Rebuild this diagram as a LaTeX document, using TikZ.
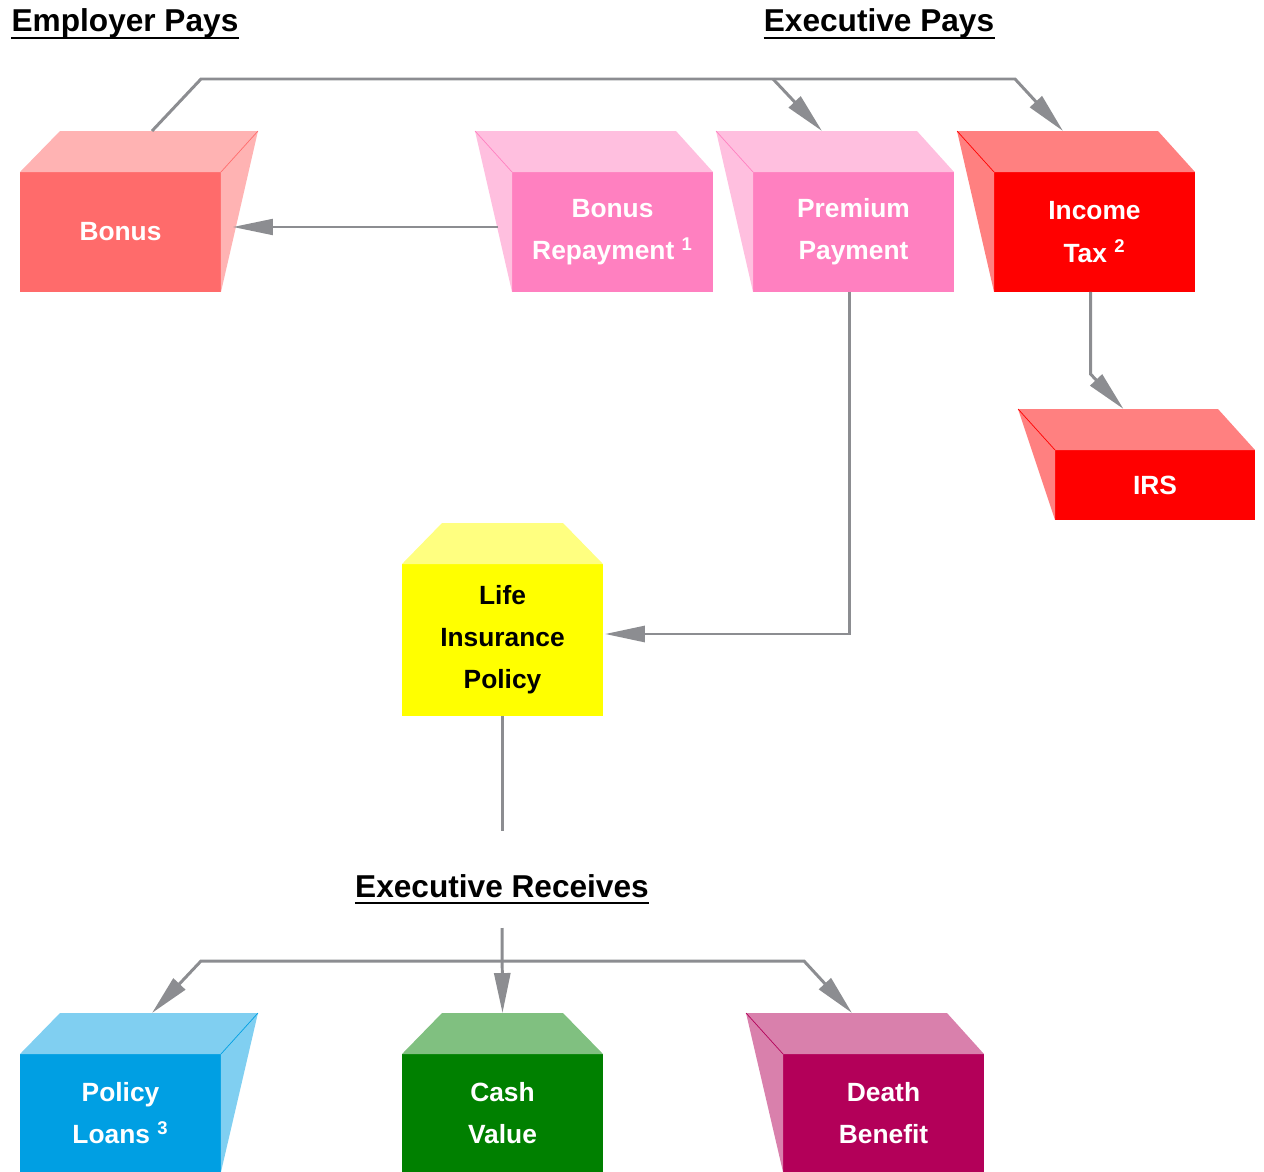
\documentclass[tikz,border=0pt]{standalone}
\usepackage{fontspec}
\setmainfont{Liberation Sans}
\usetikzlibrary{arrows.meta}
\definecolor{bonusfront}{RGB}{255,107,107}
\definecolor{bonustop}{RGB}{255,179,179}
\definecolor{pinkfront}{RGB}{255,128,192}
\definecolor{pinktop}{RGB}{255,191,223}
\definecolor{redfront}{RGB}{255,0,0}
\definecolor{redtop}{RGB}{255,128,128}
\definecolor{yellowfront}{RGB}{255,255,0}
\definecolor{yellowtop}{RGB}{255,255,128}
\definecolor{bluefront}{RGB}{0,159,227}
\definecolor{bluetop}{RGB}{128,207,241}
\definecolor{greenfront}{RGB}{0,128,0}
\definecolor{greentop}{RGB}{128,192,128}
\definecolor{plumfront}{RGB}{179,0,89}
\definecolor{plumtop}{RGB}{217,128,172}
\definecolor{wiregray}{RGB}{140,141,145}
% top and side faces of a box, side face on the right
\newcommand\faceright[3]{
  \fill[#2] (#1.north west) -- ++(40,-41) -- ([shift={(37,-41)}]#1.north east) -- (#1.north east) -- cycle;
  \fill[#2] (#1.north east) -- ++(37,-41) -- (#1.south east) -- cycle;
  \draw[#3,line width=0.4pt] (#1.north east) -- ++(37,-41);
  \coordinate (#1-t) at ([shift={(31.5,-41)}]#1.north);
}
% side face on the left
\newcommand\faceleft[3]{
  \fill[#2] (#1.north west) -- ++(-37,-41) -- ([shift={(-37,-41)}]#1.north east) -- (#1.north east) -- cycle;
  \fill[#2] (#1.north west) -- ++(-37,-41) -- (#1.south west) -- cycle;
  \draw[#3,line width=0.4pt] (#1.north west) -- ++(-37,-41);
  \coordinate (#1-t) at ([shift={(-31.5,-41)}]#1.north);
}
% top face only
\newcommand\facemid[2]{
  \fill[#2] (#1.north west) -- ++(40,-41) -- ([shift={(-40,-41)}]#1.north east) -- (#1.north east) -- cycle;
  \coordinate (#1-t) at ([shift={(0,-41)}]#1.north);
}

\begin{document}
\begin{tikzpicture}[x=0.02cm, y=-0.02cm,
  front/.style={rectangle, inner sep=0pt, outer sep=0pt, minimum width=4.02cm, minimum height=2.4cm,
    text=white, align=center, font=\bfseries\fontsize{15}{24}\selectfont},
  head/.style={inner sep=0pt, anchor=base, font=\bfseries\fontsize{18}{22}\selectfont},
  uline/.style={line width=1.4pt},
  wire/.style={draw=wiregray, line width=1.7pt},
  arrowed/.style={-{Triangle[length=0.8cm,width=0.32cm]}}]
	\useasboundingbox (0,0) rectangle (1264,1172);
	% headings
	\node[head] (emp) at (125,32) {Employer Pays};
	\node[head] (exe) at (879,32) {Executive Pays};
	\node[head] (recv) at (502,897) {Executive Receives};
	\draw[uline] ([yshift=-3.4pt]emp.base west) -- ([yshift=-3.4pt]emp.base east);
	\draw[uline] ([yshift=-3.4pt]exe.base west) -- ([yshift=-3.4pt]exe.base east);
	\draw[uline] ([yshift=-3.4pt]recv.base west) -- ([yshift=-3.4pt]recv.base east);
	% boxes
	\node[front, fill=bonusfront] (bonus) at (120.5,232) {Bonus};
	\node[front, fill=pinkfront] (rep) at (612.5,232) {Bonus\\Repayment \textsuperscript{1}};
	\node[front, fill=pinkfront] (prem) at (853.5,232) {Premium\\Payment};
	\node[front, fill=redfront] (tax) at (1094.5,232) {Income\\Tax \textsuperscript{2}};
	\node[front, fill=redfront, minimum width=4cm, minimum height=1.4cm] (irs) at (1155,485) {IRS};
	\node[front, fill=yellowfront, text=black, minimum height=3.04cm] (life) at (502.5,640) {Life\\Insurance\\Policy};
	\node[front, fill=bluefront, minimum height=2.36cm] (loans) at (120.5,1113) {Policy\\Loans \textsuperscript{3}};
	\node[front, fill=greenfront, minimum height=2.36cm] (cash) at (502.5,1113) {Cash\\Value};
	\node[front, fill=plumfront, minimum height=2.36cm] (death) at (883.5,1113) {Death\\Benefit};
	\faceright{bonus}{bonustop}{bonusfront}
	\faceleft{rep}{pinktop}{pinkfront}
	\faceleft{prem}{pinktop}{pinkfront}
	\faceleft{tax}{redtop}{redfront}
	\faceleft{irs}{redtop}{redfront}
	\facemid{life}{yellowtop}
	\faceright{loans}{bluetop}{bluefront}
	\facemid{cash}{greentop}
	\faceleft{death}{plumtop}{plumfront}
	% connectors
	\coordinate (tl) at (201,79);
	\coordinate (tm) at (773,79);
	\coordinate (tr) at (1015,79);
	\coordinate (bl) at (201,961);
	\coordinate (br) at (804,961);
	\coordinate (lend) at (502.5,831);
	\draw[wire, arrowed] (bonus-t) -- (tl) -- (tr) -- (tax-t);
	\draw[wire, arrowed] (tm) -- (prem-t);
	\draw[wire, arrowed, line width=1.1pt] ([shift={(-14,-5)}]rep.west) -- ([shift={(12,-5)}]bonus.east);
	\draw[wire, arrowed] ([shift={(-4,0)}]tax.south) -- ++(0,82) -- (irs-t);
	\draw[wire, arrowed] ([shift={(-4,0)}]prem.south) |- ([shift={(2,-6)}]life.east);
	\draw[wire] (life.south) -- (lend);
	\draw[wire, arrowed] ([shift={(0,31)}]recv.base) -- (cash-t);
	\draw[wire, {Triangle[length=0.8cm,width=0.32cm]}-{Triangle[length=0.8cm,width=0.32cm]}] (loans-t) -- (bl) -- (br) -- (death-t);
\end{tikzpicture}
\end{document}
